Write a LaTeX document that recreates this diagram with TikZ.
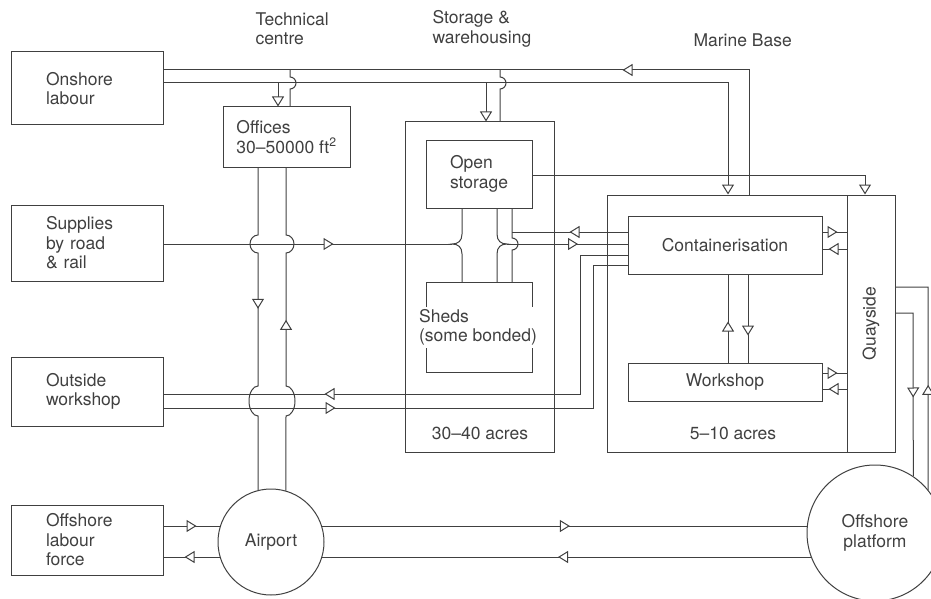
\documentclass[tikz,border=0pt]{standalone}
\usepackage{fontspec}
\setmainfont{TeX Gyre Heros}
\usetikzlibrary{arrows.meta}
\usetikzlibrary{decorations.markings}

\tikzset{
  tri/.tip={Triangle[length=10pt, width=12pt, fill=white]},
  flow/.style={postaction={decorate, decoration={markings, mark=at position #1 with {\arrow{tri}}}}},
  block/.style={draw, minimum width=152pt, text width=82pt, align=left},
  area/.style={draw, minimum width=#1},
}

\begin{document}
\begin{tikzpicture}[x=1pt, y=-1pt, line width=1pt, color=black!75,
  every node/.style={font=\fontsize{17.5}{19.5}\selectfont, inner sep=2pt}]
\useasboundingbox (0,0) rectangle (931,599);

% headings
\node[anchor=west, align=left] (techlbl) at (253,29) {Technical\\centre};
\node[anchor=west, align=left] (storelbl) at (430,29) {Storage \&\\warehousing};
\node[anchor=west] (marinelbl) at (691,40) {Marine Base};

% outside sources
\node[block, minimum height=73pt] (onshore) at (87,88.5) {Onshore\\labour};
\node[block, minimum height=76pt] (supplies) at (87,243) {Supplies\\by road\\\& rail};
\node[block, minimum height=69pt] (outside) at (87,391.5) {Outside\\workshop};
\node[block, minimum height=70pt] (offlab) at (87,540) {Offshore\\labour\\force};

% technical centre
\node[draw, minimum width=127pt, minimum height=60pt, align=left] (offices) at (286.5,137) {Offices\\30--50000 ft\textsuperscript{2}};

% storage
\node[area=149pt, minimum height=330pt] (storage) at (479.5,287) {};
\node[area=106pt, minimum height=68pt, align=left] (open) at (479,174) {Open\\storage};
\node[align=left] (sheds) at (478,327.5) {Sheds\\(some bonded)};
\coordinate (shedtop) at (479,282);
\draw (426,307) -- (426,282) -- (532,282) -- (532,307);
\draw (426,348) -- (426,372) -- (532,372) -- (532,348);
\node (acres1) at (480,433) {30--40 acres};

% marine base
\node[area=288pt, minimum height=257pt] (marine) at (751,323.5) {};
\node[area=48pt, minimum height=257pt] (quay) at (871,323.5) {\rotatebox{90}{Quayside}};
\node[area=194pt, minimum height=58pt] (container) at (725,245) {Containerisation};
\node[area=194pt, minimum height=38pt] (workshop) at (725,382) {Workshop};
\node (acres2) at (733,433) {5--10 acres};

% offshore
\node[draw, circle, minimum size=106pt] (airport) at (271,542) {Airport};
\node[draw, circle, minimum size=136pt, align=center] (platform) at (875,533) {Offshore\\platform};

% onshore labour
\draw[flow=251pt] (749,0 |- marine.north) -- (749,70) -- (onshore.east |- 0,70);
\draw[-tri] (onshore.east |- 0,83) -- (728,83) -- (728,0 |- marine.north);
\draw[-tri] (278,83) -- (278,0 |- offices.north);
\draw[-tri] (486,83) -- (486,0 |- storage.north);
\draw (290,70) -- (290,77) arc[start angle=90, end angle=-90, radius=6pt] -- (290,0 |- offices.north);
\draw (500,70) -- (500,77) arc[start angle=90, end angle=-90, radius=6pt] -- (500,0 |- storage.north);

% storage links
\draw[-tri] (open.east |- 0,175) -- (865,175) -- (865,0 |- quay.north);
\draw[flow=170pt] (supplies.east |- 0,244) -- (452,244);
\draw (462,0 |- open.south) -- (462,234) .. controls (462,241) and (458,244) .. (452,244)
  .. controls (458,244) and (462,247) .. (462,254) -- (462,0 |- shedtop);
\draw (497,0 |- open.south) -- (497,234) .. controls (497,241) and (501,244) .. (507,244)
  .. controls (501,244) and (497,247) .. (497,254) -- (497,0 |- shedtop);
\draw (512,0 |- open.south) -- (512,238) arc[start angle=90, end angle=-90, radius=6pt] -- (512,0 |- shedtop);
\draw[flow=71pt] (507,244) -- (container.west |- 0,244);
\draw[flow=58pt] (container.west |- 0,232) -- (512,232);

% outside workshop
\draw[flow=442pt] (container.west |- 0,255) -- (580,255) -- (580,394) -- (outside.east |- 0,394);
\draw[flow=172pt] (outside.east |- 0,408) -- (593,408) -- (593,265) -- (container.west |- 0,265);

% offices and airport
\draw[flow=150pt] (258,0 |- offices.south) -- (258,235)
  arc[start angle=90, end angle=270, x radius=8pt, y radius=9pt] -- (258,386)
  arc[start angle=90, end angle=270, x radius=9pt, y radius=15pt] -- (airport.104);
\draw[flow=179pt] (airport.74) -- (286,416)
  arc[start angle=-90, end angle=90, x radius=9pt, y radius=15pt] -- (286,253)
  arc[start angle=-90, end angle=90, x radius=8pt, y radius=9pt] -- (286,0 |- offices.south);
\draw[flow=33pt] (offlab.east |- 0,526) -- (airport.162 |- 0,526);
\draw[flow=35pt] (airport.196 |- 0,557) -- (offlab.east |- 0,557);
\draw[flow=248pt] (airport.18 |- 0,526) -- (platform.174 |- 0,526);
\draw[flow=253pt] (platform.201 |- 0,557) -- (airport.-16 |- 0,557);

% inside marine base
\draw[flow=41pt] (728,0 |- workshop.north) -- (728,0 |- container.south);
\draw[flow=61pt] (748,0 |- container.south) -- (748,0 |- workshop.north);
\draw[flow=15pt] (container.east |- 0,232) -- (quay.west |- 0,232);
\draw[flow=18pt] (quay.west |- 0,249) -- (container.east |- 0,249);
\draw[flow=15pt] (workshop.east |- 0,373) -- (quay.west |- 0,373);
\draw[flow=18pt] (quay.west |- 0,389) -- (workshop.east |- 0,389);

% quayside and platform
\draw[flow=102pt] (quay.east |- 0,313) -- (913,313) -- (platform.56);
\draw[flow=105pt] (platform.39) -- (928,287) -- (quay.east |- 0,287);
\end{tikzpicture}
\end{document}
